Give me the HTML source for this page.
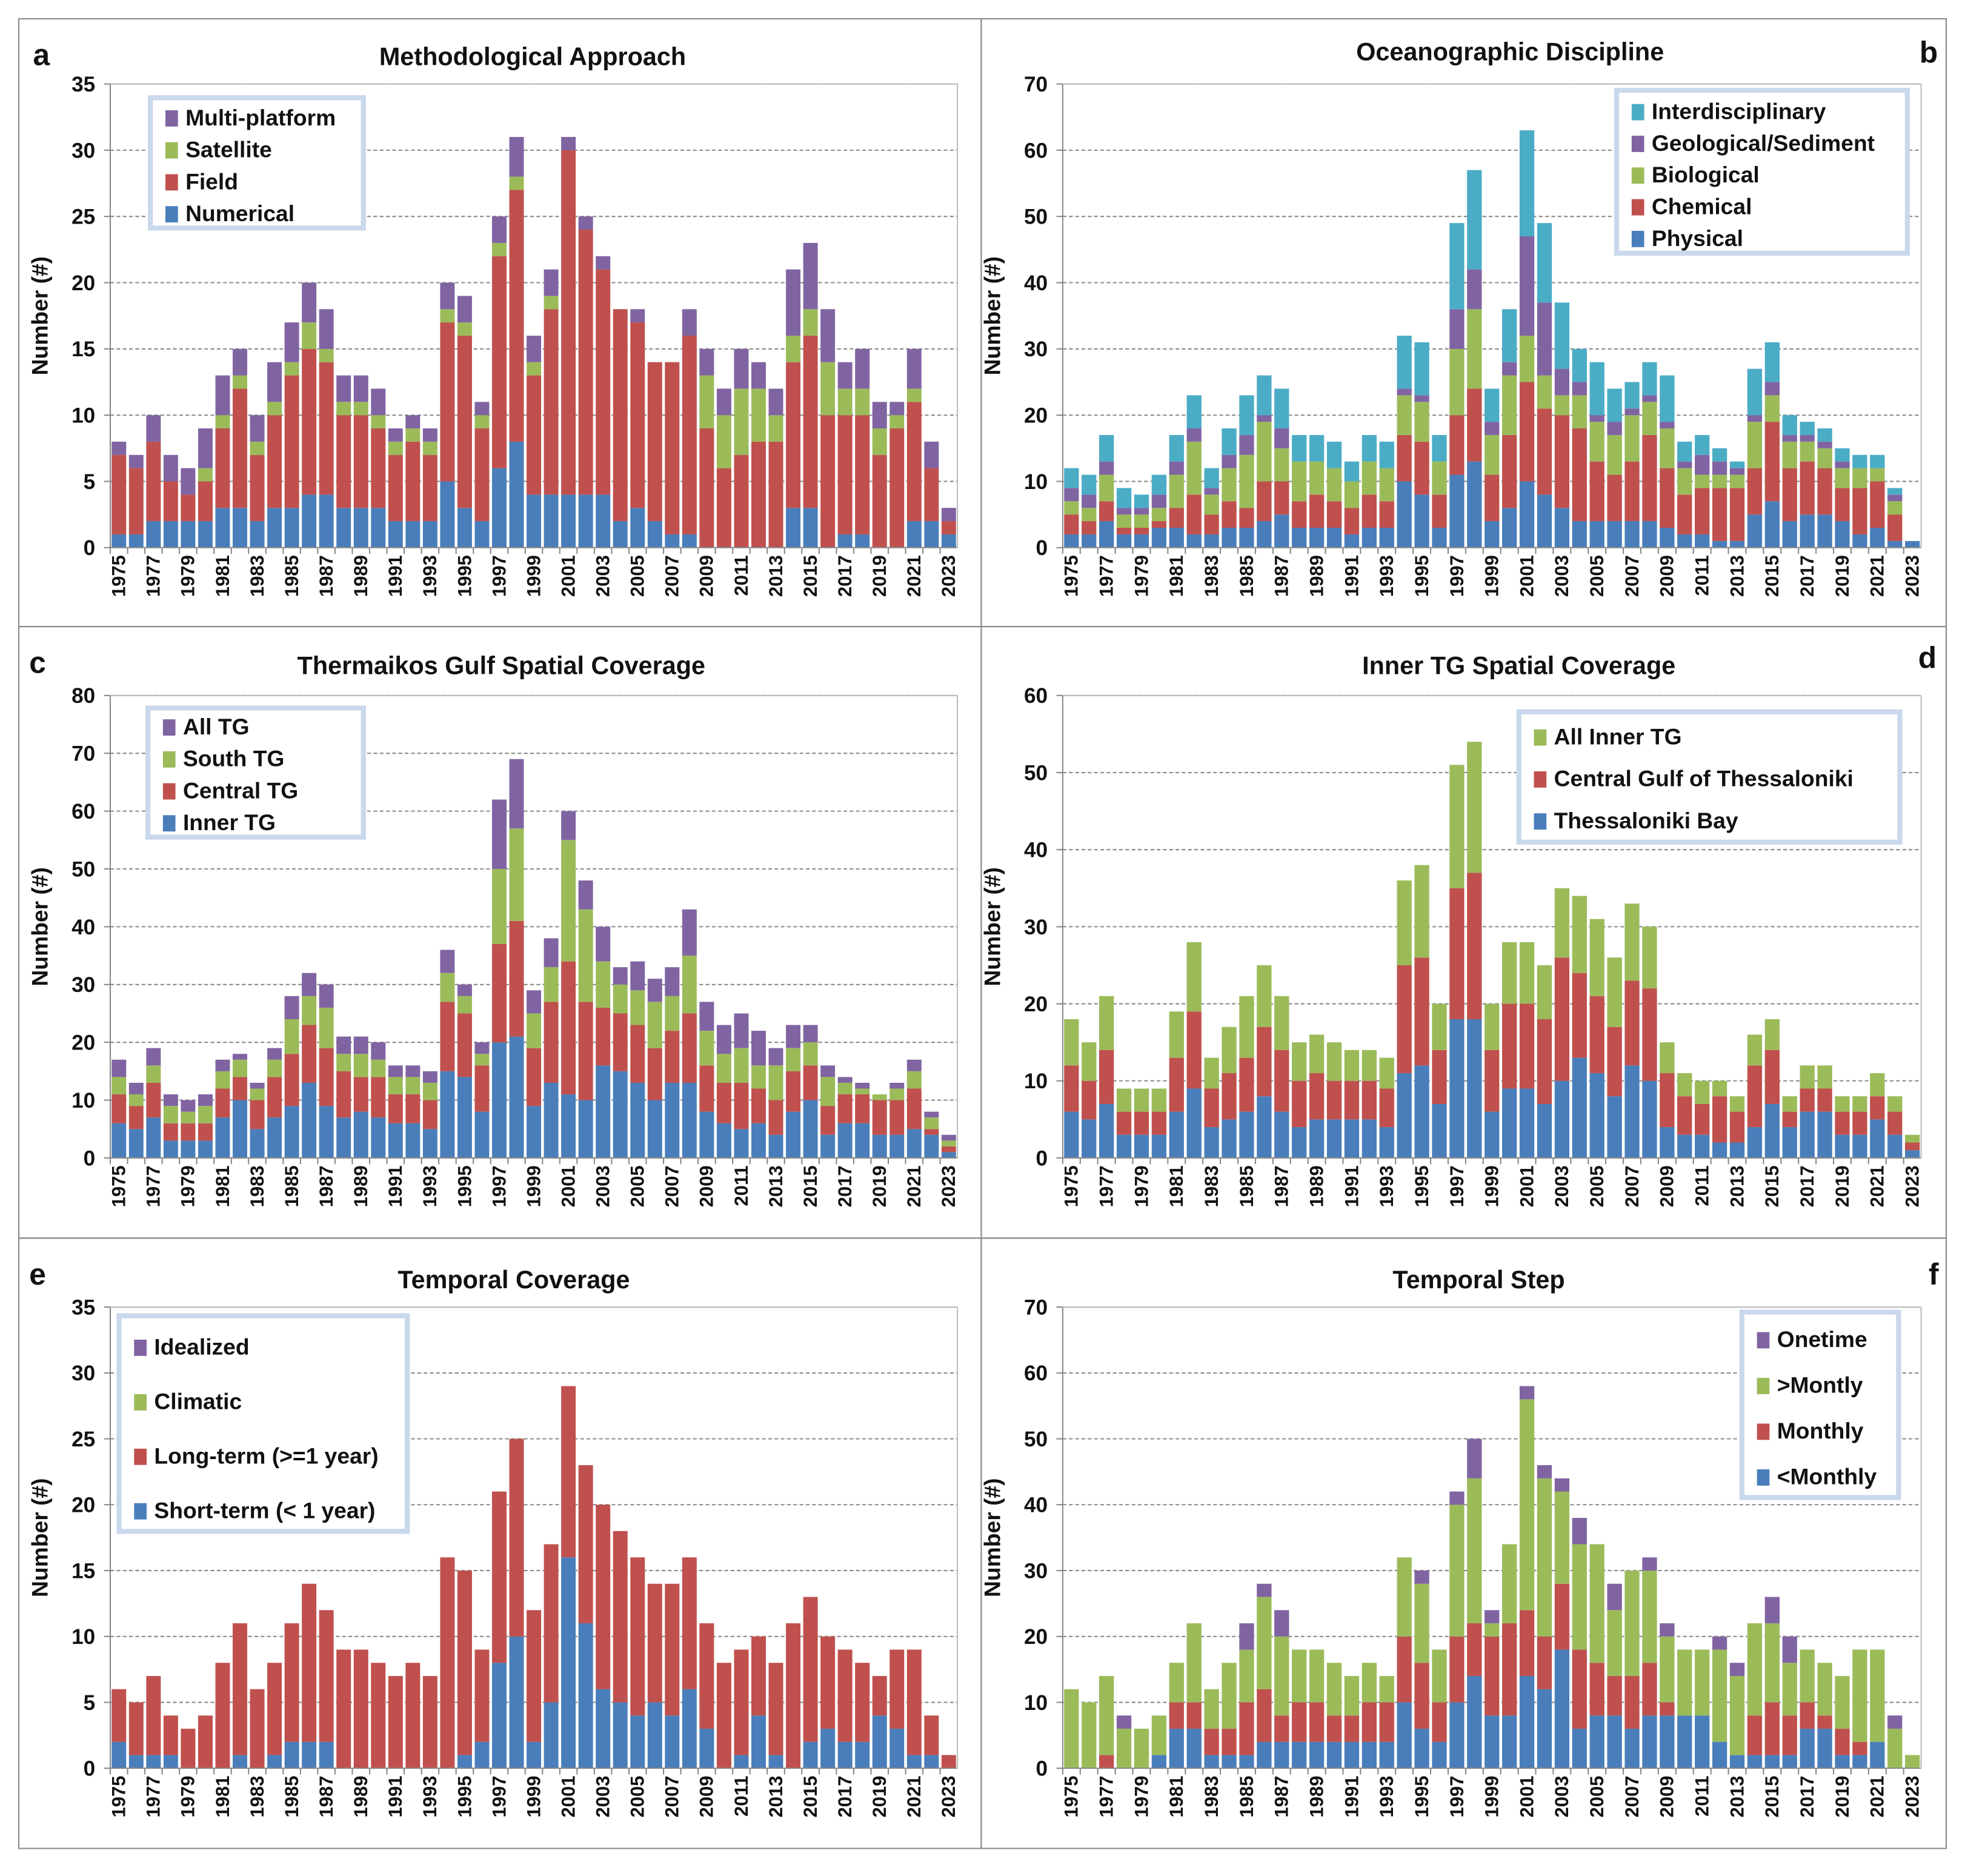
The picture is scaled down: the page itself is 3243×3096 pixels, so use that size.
<!DOCTYPE html>
<html><head><meta charset="utf-8"><style>
html,body{margin:0;padding:0;background:#fff;}
svg{display:block;}
text{font-family:"Liberation Sans",Arial,sans-serif;font-weight:bold;fill:#111;}
</style></head><body>
<svg id="fig" width="3243" height="3096" viewBox="0 0 1568 1497" preserveAspectRatio="none" xmlns="http://www.w3.org/2000/svg"></svg>
<script>
const years = [];
for (let y = 1975; y <= 2023; y++) years.push(y);

// Panel a: Methodological Approach
const aNumerical = [1,1,2,2,2,2,3,3,2,3,3,4,4,3,3,3,2,2,2,5,3,2,6,8,4,4,4,4,4,2,3,2,1,1,0,0,0,0,0,3,3,0,1,1,0,0,2,2,1];
const aField     = [6,5,6,3,2,3,6,9,5,7,10,11,10,7,7,6,5,6,5,12,13,7,16,19,9,14,26,20,17,16,14,12,13,15,9,6,7,8,8,11,13,10,9,9,7,9,9,4,1];
const aSatellite = [0,0,0,0,0,1,1,1,1,1,1,2,1,1,1,1,1,1,1,1,1,1,1,1,1,1,0,0,0,0,0,0,0,0,4,4,5,4,2,2,2,4,2,2,2,1,1,0,0];
const aMulti     = [1,1,2,2,2,3,3,2,2,3,3,3,3,2,2,2,1,1,1,2,2,1,2,3,2,2,1,1,1,0,1,0,0,2,2,2,3,2,2,5,5,4,2,3,2,1,3,2,1];

// Panel b: Oceanographic Discipline
const bPhysical = [2,2,4,2,2,3,3,2,2,3,3,4,5,3,3,3,2,3,3,10,8,3,11,13,4,6,10,8,6,4,4,4,4,4,3,2,2,1,1,5,7,4,5,5,4,2,3,1,1];
const bChemical = [3,2,3,1,1,1,3,6,3,4,3,6,5,4,5,4,4,5,4,7,8,5,9,11,7,11,15,13,14,14,9,7,9,13,9,6,7,8,8,7,12,8,8,7,5,7,7,4,0];
const bBiological = [2,2,4,2,2,2,5,8,3,5,8,9,5,6,5,5,4,5,5,6,6,5,10,12,6,9,7,5,3,5,6,6,7,5,6,4,2,2,2,7,4,4,3,3,3,3,2,2,0];
const bGeological = [2,2,2,1,1,2,2,2,1,2,3,1,3,0,0,0,0,0,0,1,1,0,6,6,2,2,15,11,4,2,1,2,1,1,1,1,3,2,1,1,2,1,1,1,1,0,0,1,0];
const bInter = [3,3,4,3,2,3,4,5,3,4,6,6,6,4,4,4,3,4,4,8,8,4,13,15,5,8,16,12,10,5,8,5,4,5,7,3,3,2,1,7,6,3,2,2,2,2,2,1,0];

// Panel c: Thermaikos Gulf Spatial Coverage
const cInner   = [6,5,7,3,3,3,7,10,5,7,9,13,9,7,8,7,6,6,5,15,14,8,20,21,9,13,11,10,16,15,13,10,13,13,8,6,5,6,4,8,10,4,6,6,4,4,5,4,1];
const cCentral = [5,4,6,3,3,3,5,4,5,7,9,10,10,8,6,7,5,5,5,12,11,8,17,20,10,14,23,17,10,10,10,9,9,12,8,7,8,6,6,7,6,5,5,5,6,6,7,1,1];
const cSouth   = [3,2,3,3,2,3,3,3,2,3,6,5,7,3,4,3,3,3,3,5,3,2,13,16,6,6,21,16,8,5,6,8,6,10,6,5,6,4,6,4,4,5,2,1,1,2,3,2,1];
const cAll     = [3,2,3,2,2,2,2,1,1,2,4,4,4,3,3,3,2,2,2,4,2,2,12,12,4,5,5,5,6,3,5,4,5,8,5,5,6,6,3,4,3,2,1,1,0,1,2,1,1];

// Panel d: Inner TG Spatial Coverage
const dBay     = [6,5,7,3,3,3,6,9,4,5,6,8,6,4,5,5,5,5,4,11,12,7,18,18,6,9,9,7,10,13,11,8,12,10,4,3,3,2,2,4,7,4,6,6,3,3,5,3,1];
const dCentral = [6,5,7,3,3,3,7,10,5,6,7,9,8,6,6,5,5,5,5,14,14,7,17,19,8,11,11,11,16,11,10,9,11,12,7,5,4,6,4,8,7,2,3,3,3,3,3,3,1];
const dAllInner= [6,5,7,3,3,3,6,9,4,6,8,8,7,5,5,5,4,4,4,11,12,6,16,17,6,8,8,7,9,10,10,9,10,8,4,3,3,2,2,4,4,2,3,3,2,2,3,2,1];

// Panel e: Temporal Coverage
const eShort = [2,1,1,1,0,0,0,1,0,1,2,2,2,0,0,0,0,0,0,0,1,2,8,10,2,5,16,11,6,5,4,5,4,6,3,0,1,4,1,0,2,3,2,2,4,3,1,1,0];
const eLong  = [4,4,6,3,3,4,8,10,6,7,9,12,10,9,9,8,7,8,7,16,14,7,13,15,10,12,13,12,14,13,12,9,10,10,8,8,8,6,7,11,11,7,7,6,3,6,8,3,1];
const eClimatic = years.map(() => 0);
const eIdealized = years.map(() => 0);

// Panel f: Temporal Step
const fLess    = [0,0,0,0,0,2,6,6,2,2,2,4,4,4,4,4,4,4,4,10,6,4,10,14,8,8,14,12,18,6,8,8,6,8,8,8,8,4,2,2,2,2,6,6,2,2,4,0,0];
const fMonthly = [0,0,2,0,0,0,4,4,4,4,8,8,4,6,6,4,4,6,6,10,10,6,10,8,12,14,10,8,10,12,8,6,8,8,2,0,0,0,0,6,8,6,4,2,4,2,0,0,0];
const fMore    = [12,10,12,6,6,6,6,12,6,10,8,14,12,8,8,8,6,6,4,12,12,8,20,22,2,12,32,24,14,16,18,10,16,14,10,10,10,14,12,14,12,8,8,8,8,14,14,6,2];
const fOnetime = [0,0,0,2,0,0,0,0,0,0,4,2,4,0,0,0,0,0,0,0,2,0,2,6,2,0,2,2,2,4,0,4,0,2,2,0,0,2,2,0,4,4,0,0,0,0,0,2,0];

const COL = {blue:'#4a7ebb', red:'#c0504d', green:'#9bbb59', purple:'#8064a2', cyan:'#4bacc6'};
const NS = 'http://www.w3.org/2000/svg';
const svg = document.getElementById('fig');
function mk(tag, attrs, parent){ const e=document.createElementNS(NS,tag); for(const k in attrs) e.setAttribute(k,attrs[k]); (parent||svg).appendChild(e); return e; }

// panel frames
const frames = [[15,15,768,485,'panel-a-frame'],[783,15,770,485,'panel-b-frame'],[15,500,768,488,'panel-c-frame'],[783,500,770,488,'panel-d-frame'],[15,988,768,487,'panel-e-frame'],[783,988,770,487,'panel-f-frame']];
frames.forEach(f=>{ const r=mk('rect',{x:f[0],y:f[1],width:f[2],height:f[3],fill:'none',stroke:'#888','stroke-width':1});

 });

function panel(p){
  const g = mk('g',{});
  
  
  const x0=p.x0,x1=p.x1,yt=p.yt,yb=p.yb;
  const ys = v => yb - v/p.max*(yb-yt);
  const slot = (x1-x0)/years.length;
  const xs = i => x0 + i*slot;
  // grid + y ticks
  for(let v=0; v<=p.max; v+=p.step){
    const y=ys(v);
    if(v>0){ const l=mk('line',{x1:x0,x2:x1,y1:y,y2:y,stroke:'#8a8a8a','stroke-width':1,'stroke-dasharray':'3,2'},g);
        }
    mk('line',{x1:x0-5,x2:x0,y1:y,y2:y,stroke:'#888'},g);
    const t=mk('text',{x:x0-12,y:y+6,'text-anchor':'end','font-size':17},g); t.textContent=v;
     
  }
  // bars
  const bw = slot*0.84;
  years.forEach((yr,i)=>{
    let acc=0;
    p.series.forEach((s,si)=>{
      const v=s.data[i]; if(!v){return;}
      const r=mk('rect',{x:xs(i)+(slot-bw)/2,y:ys(acc+v),width:bw,height:ys(acc)-ys(acc+v),fill:s.color},g);
      
      
      acc+=v;
    });
  });
  // axes
  mk('line',{x1:x0,x2:x0,y1:yt,y2:yb,stroke:'#888'},g);
  mk('line',{x1:x0,x2:x1,y1:yb,y2:yb,stroke:'#888'},g);
  mk('line',{x1:x0,x2:x1,y1:yt,y2:yt,stroke:'#bbb'},g);
  mk('line',{x1:x1,x2:x1,y1:yt,y2:yb,stroke:'#bbb'},g);
  years.forEach((yr,i)=>{
    mk('line',{x1:xs(i),x2:xs(i),y1:yb,y2:yb+5,stroke:'#888'},g);
    if((yr-1975)%2===0){
      const cx=xs(i)+slot/2+5;
      const t=mk('text',{x:0,y:0,'text-anchor':'end','font-size':15,transform:`translate(${cx},${yb+6}) rotate(-90)`},g);
      t.textContent=yr;
       
    }
  });
  // title
  const tt=mk('text',{x:p.tx,y:p.ty,'text-anchor':'middle','font-size':20},g); tt.textContent=p.title;
   
  const lt=mk('text',{x:p.lx,y:p.ly,'text-anchor':'middle','font-size':24},g); lt.textContent=p.letter;
   
  const ya=mk('text',{x:0,y:0,'text-anchor':'middle','font-size':18,transform:`translate(${x0-50},${(yt+yb)/2}) rotate(-90)`},g);
  ya.textContent='Number (#)';
   
  // legend
  const L=p.legend;
  const lg=mk('g',{},g);
   
  mk('rect',{x:L.x,y:L.y,width:L.w,height:L.h,fill:'#fff',stroke:'#c9d8ec','stroke-width':4},lg);
  const order=[...p.series].reverse();
  order.forEach((s,k)=>{
    const yy=L.y+L.pad+k*L.gap;
    const e=mk('g',{},lg);
     
    mk('rect',{x:L.x+12,y:yy-11,width:10,height:13,fill:s.color},e);
    const t=mk('text',{x:L.x+28,y:yy+1,'font-size':18},e); t.textContent=s.label;
  });
}

panel({name:'chart-methodological-approach',x0:88,x1:764,yt:67,yb:437,max:35,step:5,title:'Methodological Approach',tx:425,ty:52,letter:'a',lx:33,ly:52,
 legend:{x:120,y:78,w:170,h:104,pad:21,gap:25.5},
 series:[{key:'numerical',label:'Numerical',color:COL.blue,data:aNumerical},{key:'field',label:'Field',color:COL.red,data:aField},{key:'satellite',label:'Satellite',color:COL.green,data:aSatellite},{key:'multi-platform',label:'Multi-platform',color:COL.purple,data:aMulti}]});
panel({name:'chart-oceanographic-discipline',x0:848,x1:1533,yt:67,yb:437,max:70,step:10,title:'Oceanographic Discipline',tx:1205,ty:48,letter:'b',lx:1539,ly:50,
 legend:{x:1290,y:72,w:232,h:130,pad:22,gap:25.3},
 series:[{key:'physical',label:'Physical',color:COL.blue,data:bPhysical},{key:'chemical',label:'Chemical',color:COL.red,data:bChemical},{key:'biological',label:'Biological',color:COL.green,data:bBiological},{key:'geological',label:'Geological/Sediment',color:COL.purple,data:bGeological},{key:'interdisciplinary',label:'Interdisciplinary',color:COL.cyan,data:bInter}]});
panel({name:'chart-thermaikos-spatial',x0:88,x1:764,yt:555,yb:924,max:80,step:10,title:'Thermaikos Gulf Spatial Coverage',tx:400,ty:538,letter:'c',lx:30,ly:537,
 legend:{x:118,y:565,w:172,h:103,pad:20,gap:25.5},
 series:[{key:'inner-tg',label:'Inner TG',color:COL.blue,data:cInner},{key:'central-tg',label:'Central TG',color:COL.red,data:cCentral},{key:'south-tg',label:'South TG',color:COL.green,data:cSouth},{key:'all-tg',label:'All TG',color:COL.purple,data:cAll}]});
panel({name:'chart-inner-tg-spatial',x0:848,x1:1533,yt:555,yb:924,max:60,step:10,title:'Inner TG Spatial Coverage',tx:1212,ty:538,letter:'d',lx:1538,ly:533,
 legend:{x:1212,y:568,w:304,h:104,pad:25,gap:33.5},
 series:[{key:'thessaloniki-bay',label:'Thessaloniki Bay',color:COL.blue,data:dBay},{key:'central-gulf',label:'Central Gulf of Thessaloniki',color:COL.red,data:dCentral},{key:'all-inner-tg',label:'All Inner TG',color:COL.green,data:dAllInner}]});
panel({name:'chart-temporal-coverage',x0:88,x1:764,yt:1043,yb:1411,max:35,step:5,title:'Temporal Coverage',tx:410,ty:1028,letter:'e',lx:30,ly:1025,
 legend:{x:95,y:1050,w:230,h:172,pad:30,gap:43.5},
 series:[{key:'short-term',label:'Short-term (< 1 year)',color:COL.blue,data:eShort},{key:'long-term',label:'Long-term (>=1 year)',color:COL.red,data:eLong},{key:'climatic',label:'Climatic',color:COL.green,data:eClimatic},{key:'idealized',label:'Idealized',color:COL.purple,data:eIdealized}]});
panel({name:'chart-temporal-step',x0:848,x1:1533,yt:1043,yb:1411,max:70,step:10,title:'Temporal Step',tx:1180,ty:1028,letter:'f',lx:1543,ly:1025,
 legend:{x:1390,y:1047,w:125,h:148,pad:27,gap:36.5},
 series:[{key:'less-monthly',label:'<Monthly',color:COL.blue,data:fLess},{key:'monthly',label:'Monthly',color:COL.red,data:fMonthly},{key:'more-monthly',label:'>Montly',color:COL.green,data:fMore},{key:'onetime',label:'Onetime',color:COL.purple,data:fOnetime}]});
</script>
</body></html>
